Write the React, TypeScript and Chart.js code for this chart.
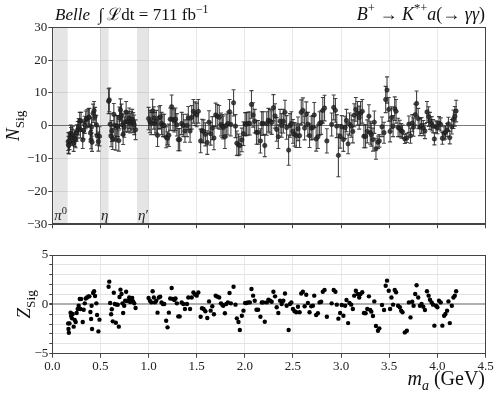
import React, { useEffect, useRef } from "react";
import { Chart, registerables } from "chart.js";
Chart.register(...registerables);

// Scan mass points (GeV)
const massGeV = [
  0.165, 0.168, 0.172, 0.178, 0.19, 0.195, 0.205, 0.212, 0.222, 0.233, 0.243, 0.253, 0.264, 0.274, 0.285, 0.292, 0.299, 0.316, 0.326, 0.337, 0.347, 0.361, 0.375, 0.385, 0.396, 0.403, 0.408, 0.413, 0.424, 0.434, 0.444, 0.458, 0.465, 0.479, 0.49,
  0.585, 0.592, 0.601, 0.611, 0.618, 0.628, 0.639, 0.649, 0.66, 0.67, 0.68, 0.691, 0.698, 0.708, 0.719, 0.729, 0.736, 0.747, 0.757, 0.767, 0.778, 0.788, 0.799, 0.809, 0.819, 0.83, 0.84, 0.851, 0.865,
  1.0, 1.014, 1.028, 1.042, 1.055, 1.066, 1.08, 1.093, 1.107, 1.121, 1.135, 1.149, 1.163, 1.183, 1.197, 1.211, 1.225, 1.24, 1.253, 1.267, 1.28, 1.294, 1.309, 1.323, 1.344, 1.361, 1.378, 1.399, 1.413, 1.431,
  1.448, 1.466, 1.483, 1.5, 1.517, 1.541, 1.555, 1.572, 1.59, 1.61,
  1.628, 1.645, 1.662, 1.679, 1.697, 1.714, 1.734, 1.752, 1.766, 1.776,
  1.793, 1.807, 1.824, 1.841, 1.855, 1.883, 1.903, 1.917, 1.934, 1.948,
  1.969, 1.986, 2.003, 2.017, 2.034, 2.052, 2.069, 2.086, 2.103, 2.121,
  2.138, 2.162, 2.176, 2.19, 2.207, 2.228, 2.245, 2.262, 2.279, 2.297,
  2.314, 2.331, 2.348, 2.366, 2.383, 2.4, 2.417, 2.434, 2.455, 2.469,
  2.483, 2.5, 2.517, 2.534, 2.552, 2.569, 2.586, 2.603, 2.621, 2.638,
  2.655, 2.672, 2.69, 2.707, 2.721, 2.741, 2.759, 2.776, 2.793, 2.81,
  2.828, 2.852,
  2.902, 2.923, 2.941, 2.955, 2.972, 2.99, 3.007, 3.024, 3.042, 3.056,
  3.073, 3.087, 3.105, 3.122, 3.136, 3.153, 3.171, 3.188, 3.202, 3.22,
  3.237, 3.254, 3.272, 3.289, 3.303, 3.314, 3.331, 3.345, 3.362, 3.383,
  3.397, 3.425, 3.446, 3.463, 3.477, 3.495, 3.509, 3.523, 3.54, 3.557,
  3.571, 3.592, 3.61, 3.624, 3.638, 3.662, 3.683, 3.704, 3.721, 3.739,
  3.753, 3.77, 3.784, 3.801, 3.819, 3.836, 3.854, 3.871, 3.892, 3.909,
  3.923, 3.941, 3.955, 3.969, 3.986, 4.0, 4.017, 4.035, 4.052, 4.07,
  4.084, 4.101, 4.115, 4.129, 4.15, 4.167, 4.181, 4.195,
];

// Fitted signal yield N_Sig
const nSig = [
  -4.8, -5.8, -6.0, -4.6, -2.3, -3.0, -3.5, -2.6, -5.2, -3.8, -4.2, -2.2, -1.2, -0.3, 1.5, -1.2, 1.5, -4.3, -1.4, 0.3, 1.8, 2.2, 2.5, 2.6, -2.2, -4.2, -0.4, -5.0, 3.8, 4.6, 2.8, 0.3, -3.0, -4.8, -3.2,
  7.5, 7.9, 0.5, -3.2, -1.6, -4.0, 3.5, 0.1, -4.2, -0.1, -0.1, -4.5, 2.4, 4.8, 3.3, 0.3, -2.6, -0.4, 1.2, 4.2, 1.2, 1.2, 2.3, 0.8, 1.4, 2.0, 1.0, 0.3, -1.2,
  2.2, 1.3, 0.7, 4.5, 2.4, 0.7, 1.3, -2.9, 2.4, 2.7, 0.7, 0.1, 0.1, -3.5, -3.8, -2.9, 2.0, 5.8, 1.9, 1.5, 2.0, 0.3, -4.2, -4.2, 0.7, 0.1, -1.6, 0.1, 2.4, -1.6,
  2.6, 4.4, 3.7, 3.3, 4.4, -4.6, -1.5, -1.7, -2.6, -5.1,
  1.1, -2.4, -0.7, -3.7, 3.3, 2.9, 2.6, 0.4, -0.1, -0.5,
  -3.3, 0.1, 0.7, 4.3, 0.4, 7.0, -0.1, -5.3, -5.8, -6.0,
  -4.3, -2.4, 0.5, 0.5, 0.7, 0.7, 6.5, 3.3, 1.4, -2.0,
  -2.0, -4.6, 0.7, 0.7, -6.0, 0.7, 1.7, 1.4, 1.0, 5.5,
  3.0, -1.1, -3.3, 1.4, 0.1, 1.4, 4.1, -0.5, -7.4, 0.1,
  0.7, -1.7, -2.6, -3.0, -0.9, -3.0, 4.1, 4.7, -0.7, 3.6,
  0.5, -3.0, -0.7, -0.5, 3.3, -4.0, -3.3, 0.7, 1.0, 4.7,
  5.4, -4.6,
  0.4, 5.6, 4.7, -0.1, -9.0, -3.2, -0.3, -4.2, -0.5, 1.6,
  -5.5, 0.5, -0.1, -1.7, 3.2, 5.0, 3.8, 2.5, 3.8, 4.4,
  -3.2, -3.2, -1.7, 2.9, -2.1, -2.7, -4.2, 1.1, -7.0, -5.0,
  -4.6, -0.3, -2.1, 8.0, 10.9, 5.0, -1.7, 2.5, -0.1, 5.2,
  4.4, -0.5, -0.8, -1.5, -1.8, -4.0, -3.7, 0.5, -3.0, 0.8,
  -0.4, 3.4, 6.8, 2.2, -0.4, 0.1, -0.7, -1.6, 4.2, 2.8,
  1.5, 0.6, -0.1, -4.0, -0.3, -0.6, 0.8, 0.4, -3.8, -2.3,
  -2.0, -1.3, 0.6, -3.6, -0.3, 2.0, 2.9, 4.5,
];

// Uncertainty on N_Sig
const nSigErr = [
  2.7, 2.6, 2.6, 2.6, 2.5, 2.5, 2.5, 2.5, 2.6, 2.5, 2.5, 2.5, 2.5, 2.5, 2.6, 2.5, 2.6, 2.6, 2.6, 2.6, 2.7, 2.7, 2.7, 2.7, 2.7, 2.8, 2.8, 2.8, 2.8, 2.8, 2.8, 2.9, 2.9, 2.9, 2.9,
  3.8, 3.6, 3.3, 3.2, 3.2, 3.2, 3.3, 3.2, 3.2, 3.2, 3.2, 3.2, 3.3, 3.4, 3.3, 3.2, 3.1, 3.1, 3.1, 3.2, 3.1, 3.1, 3.1, 3.0, 3.0, 3.0, 3.0, 3.0, 3.0,
  3.4, 3.4, 3.4, 3.6, 3.4, 3.4, 3.4, 3.4, 3.4, 3.5, 3.4, 3.4, 3.4, 3.2, 2.0, 3.4, 3.4, 3.6, 3.4, 3.4, 3.4, 3.4, 3.4, 3.4, 3.4, 3.4, 3.4, 3.4, 3.5, 3.4,
  3.6, 3.6, 3.6, 3.6, 3.6, 3.6, 3.5, 3.5, 3.5, 3.6,
  3.5, 3.5, 3.5, 3.6, 3.6, 3.6, 3.6, 3.5, 3.5, 3.5,
  3.6, 3.5, 3.5, 3.7, 3.5, 4.0, 3.5, 3.7, 3.3, 2.8,
  3.6, 3.6, 3.5, 3.5, 3.5, 3.5, 4.2, 3.7, 3.6, 3.6,
  3.6, 3.7, 3.6, 3.6, 3.4, 3.6, 3.6, 3.6, 3.6, 4.0,
  3.7, 3.6, 3.6, 3.6, 3.6, 3.6, 3.7, 3.6, 4.6, 3.6,
  3.6, 3.6, 3.6, 3.6, 3.6, 3.6, 3.8, 3.8, 3.6, 3.7,
  3.6, 3.6, 3.6, 3.6, 3.8, 3.7, 3.6, 3.6, 3.6, 3.9,
  3.9, 3.7,
  3.5, 3.8, 3.6, 3.5, 6.5, 3.6, 3.4, 3.6, 3.4, 3.4,
  3.0, 3.4, 3.4, 3.5, 3.5, 3.6, 3.6, 3.5, 3.6, 3.6,
  3.5, 3.5, 3.5, 3.5, 3.5, 3.5, 3.5, 3.4, 3.2, 1.9,
  1.9, 3.0, 3.2, 4.0, 4.0, 3.6, 3.2, 3.3, 3.2, 3.6,
  3.6, 2.8, 2.5, 2.2, 2.0, 1.4, 1.4, 2.5, 2.3, 2.6,
  2.8, 3.2, 3.8, 3.1, 2.6, 2.4, 2.3, 2.3, 3.2, 3.0,
  2.6, 2.2, 2.0, 1.8, 1.8, 1.8, 2.0, 2.0, 1.8, 2.0,
  2.0, 2.0, 2.0, 1.9, 2.2, 2.8, 3.0, 3.3,
];

// Local significance Z_Sig
const zSig = [
  -1.93, -2.5, -2.87, -1.93, -0.84, -1.18, -1.42, -0.98, -2.26, -1.59, -1.79, -0.88, -0.47, -0.14, 0.54, -0.47, 0.54, -1.79, -0.54, 0.1, 0.6, 0.7, 0.81, 0.81, -0.78, -1.49, -0.14, -2.5, 1.15, 1.32, 0.84, 0.1, -1.08, -2.74, -1.55,
  1.79, 2.3, 0.14, -1.01, -0.5, -1.72, 1.18, 0.03, -1.86, -0.03, -0.03, -2.26, 0.74, 1.49, 1.05, 0.1, -0.88, -0.14, 0.37, 1.28, 0.37, 0.37, 0.7, 0.24, 0.44, 0.64, 0.3, 0.1, -0.37,
  0.64, 0.37, 0.2, 1.32, 0.7, 0.2, 0.37, -0.84, 0.7, 0.78, 0.2, 0.03, 0.03, -1.66, -2.33, -0.84, 0.6, 1.66, 0.55, 0.44, 0.6, 0.1, -1.22, -1.22, 0.2, 0.03, -0.47, 0.03, 0.7, -0.47,
  0.7, 1.2, 1.0, 0.88, 1.2, -1.25, -0.4, -0.47, -0.7, -1.38,
  0.3, -0.64, -0.2, -1.0, 0.88, 0.78, 0.7, 0.1, -0.03, -0.14,
  -0.9, 0.03, 0.2, 1.15, 0.1, 1.79, -0.03, -1.42, -1.79, -2.6,
  -1.15, -0.64, 0.14, 0.14, 0.2, 0.2, 1.55, 0.88, 0.37, -0.54,
  -0.54, -1.25, 0.2, 0.2, -1.76, 0.2, 0.47, 0.37, 0.27, 1.28,
  0.81, -0.3, -0.88, 0.37, 0.03, 0.37, 1.1, -0.14, -2.6, 0.03,
  0.2, -0.47, -0.7, -0.8, -0.24, -0.8, 1.1, 1.28, -0.2, 0.98,
  0.14, -0.8, -0.2, -0.14, 0.88, -1.08, -0.9, 0.2, 0.27, 1.28,
  1.45, -1.25,
  0.1, 1.45, 1.28, -0.03, -1.45, -0.88, -0.07, -1.15, -0.14, 0.44,
  -1.9, 0.14, -0.03, -0.47, 0.88, 1.38, 1.05, 0.7, 1.05, 1.22,
  -0.88, -0.9, -0.47, 0.81, -0.57, -0.74, -1.18, 0.3, -2.2, -2.67,
  -2.43, -0.07, -0.57, 1.89, 2.4, 1.38, -0.47, 0.7, -0.03, 1.45,
  1.22, -0.14, -0.3, -0.64, -0.8, -2.84, -2.67, 0.2, -1.32, 0.27,
  -0.14, 1.05, 1.93, 0.7, -0.14, 0.03, -0.24, -0.57, 1.32, 0.88,
  0.47, 0.2, -0.03, -2.16, -0.14, -0.3, 0.37, 0.2, -2.16, -1.15,
  -0.98, -0.64, 0.3, -1.9, -0.14, 0.7, 0.88, 1.32,
];

// Vetoed mass windows (GeV)
const vetoLow = [0.01, 0.495, 0.88];
const vetoHigh = [0.16, 0.585, 1.0];
const vetoNames = ["π", "η", "η"];
const vetoMarks = ["0", "", "′"];

// Axis ticks
const xTicks = [0, 0.5, 1.0, 1.5, 2.0, 2.5, 3.0, 3.5, 4.0, 4.5];
const nTicks = [-30, -20, -10, 0, 10, 20, 30];
const zLabelTicks = [-5, 0, 5];

const FONT = "'Liberation Serif', 'DejaVu Serif', serif";
const W = 499;

type Part = { t: string; it?: boolean; sc?: number; dy?: number };

function drawRich(
  ctx: CanvasRenderingContext2D,
  parts: Part[],
  x: number,
  y: number,
  size: number,
  align: "left" | "right" | "center"
) {
  const fontOf = (p: Part) => `${p.it ? "italic " : ""}${size * (p.sc || 1)}px ${FONT}`;
  let total = 0;
  const widths: number[] = [];
  for (const p of parts) {
    ctx.font = fontOf(p);
    const w = ctx.measureText(p.t).width;
    widths.push(w);
    total += w;
  }
  let cx = align === "left" ? x : align === "right" ? x - total : x - total / 2;
  ctx.textAlign = "left";
  ctx.textBaseline = "alphabetic";
  parts.forEach((p, i) => {
    ctx.font = fontOf(p);
    ctx.fillText(p.t, cx, y + (p.dy || 0) * size);
    cx += widths[i];
  });
}

const fmtNum = (v: number) => (v < 0 ? "\u2212" + Math.abs(v) : String(v));

const bandsPlugin = {
  id: "bands",
  beforeDatasetsDraw(chart: any) {
    const { ctx, chartArea, scales } = chart;
    ctx.save();
    ctx.fillStyle = "rgba(0,0,0,0.1)";
    vetoLow.forEach((lo, i) => {
      const a = scales.x.getPixelForValue(lo);
      const b = scales.x.getPixelForValue(vetoHigh[i]);
      ctx.fillRect(a, chartArea.top, b - a, chartArea.bottom - chartArea.top);
    });
    ctx.restore();
  },
  afterDatasetsDraw(chart: any) {
    const { ctx, chartArea, scales } = chart;
    ctx.save();
    ctx.fillStyle = "#222";
    vetoLow.forEach((lo, i) => {
      const a = scales.x.getPixelForValue(lo);
      const parts: Part[] = [{ t: vetoNames[i], it: true }];
      if (vetoMarks[i] === "0") parts.push({ t: "0", sc: 0.7, dy: -0.4 });
      if (vetoMarks[i] === "′") parts.push({ t: "′" });
      drawRich(ctx, parts, a + 1, chartArea.bottom - 4, 15, "left");
    });
    ctx.restore();
  },
};

const errorBarPlugin = {
  id: "errbars",
  beforeDatasetsDraw(chart: any) {
    const { ctx, chartArea, scales } = chart;
    ctx.save();
    ctx.beginPath();
    ctx.rect(chartArea.left, chartArea.top, chartArea.right - chartArea.left, chartArea.bottom - chartArea.top);
    ctx.clip();
    ctx.strokeStyle = "rgba(35,35,35,0.85)";
    ctx.lineWidth = 1.1;
    const n = Math.min(massGeV.length, nSig.length, nSigErr.length);
    for (let i = 0; i < n; i++) {
      const px = scales.x.getPixelForValue(massGeV[i]);
      const y1 = scales.y.getPixelForValue(nSig[i] - nSigErr[i]);
      const y2 = scales.y.getPixelForValue(nSig[i] + nSigErr[i]);
      ctx.beginPath();
      ctx.moveTo(px, y1);
      ctx.lineTo(px, y2);
      ctx.moveTo(px - 2, y1);
      ctx.lineTo(px + 2, y1);
      ctx.moveTo(px - 2, y2);
      ctx.lineTo(px + 2, y2);
      ctx.stroke();
    }
    ctx.restore();
  },
};

const framePlugin = {
  id: "frame",
  afterDraw(chart: any) {
    const { ctx, chartArea } = chart;
    ctx.save();
    ctx.strokeStyle = "#444";
    ctx.lineWidth = 1;
    const l = Math.round(chartArea.left) + 0.5;
    const t = Math.round(chartArea.top) + 0.5;
    const r = Math.round(chartArea.right) - 0.5;
    const b = Math.round(chartArea.bottom) - 0.5;
    ctx.strokeRect(l, t, r - l, b - t);
    ctx.restore();
  },
};

const topTextPlugin = {
  id: "topText",
  afterDraw(chart: any) {
    const { ctx, chartArea } = chart;
    ctx.save();
    ctx.fillStyle = "#111";
    drawRich(
      ctx,
      [
        { t: "Belle", it: true },
        { t: "  ∫ " },
        { t: "ℒ" },
        { t: "dt = 711 fb" },
        { t: "−1", sc: 0.7, dy: -0.42 },
      ],
      55,
      20,
      17,
      "left"
    );
    drawRich(
      ctx,
      [
        { t: "B", it: true },
        { t: "+", sc: 0.7, dy: -0.42 },
        { t: " → " },
        { t: "K", it: true },
        { t: "*+", sc: 0.7, dy: -0.42 },
        { t: "a", it: true },
        { t: "(→ " },
        { t: "γγ", it: true },
        { t: ")" },
      ],
      485,
      20,
      18,
      "right"
    );
    ctx.translate(19, (chartArea.top + chartArea.bottom) / 2);
    ctx.rotate(-Math.PI / 2);
    drawRich(ctx, [{ t: "N", it: true }, { t: "Sig", sc: 0.7, dy: 0.25 }], 0, 0, 19, "center");
    ctx.restore();
  },
};

const botTextPlugin = {
  id: "botText",
  afterDraw(chart: any) {
    const { ctx, chartArea } = chart;
    ctx.save();
    ctx.fillStyle = "#111";
    drawRich(ctx, [{ t: "m", it: true }, { t: "a", it: true, sc: 0.7, dy: 0.25 }, { t: " (GeV)" }], 485, 145, 20, "right");
    ctx.translate(30, (chartArea.top + chartArea.bottom) / 2);
    ctx.rotate(-Math.PI / 2);
    drawRich(ctx, [{ t: "Z", it: true }, { t: "Sig", sc: 0.7, dy: 0.25 }], 0, 0, 19, "center");
    ctx.restore();
  },
};

export default function App() {
  const topRef = useRef<HTMLCanvasElement>(null);
  const botRef = useRef<HTMLCanvasElement>(null);

  useEffect(() => {
    const n = Math.min(massGeV.length, nSig.length, zSig.length);
    const topData = [];
    const botData = [];
    for (let i = 0; i < n; i++) {
      topData.push({ x: massGeV[i], y: nSig[i] });
      botData.push({ x: massGeV[i], y: zSig[i] });
    }

    const topChart = new Chart(topRef.current as HTMLCanvasElement, {
      type: "scatter",
      data: {
        datasets: [
          {
            data: topData,
            pointRadius: 2.2,
            pointBackgroundColor: "rgba(40,40,40,0.85)",
            pointBorderColor: "rgba(20,20,20,0.9)",
            pointBorderWidth: 0.6,
          },
        ],
      },
      options: {
        responsive: false,
        animation: false,
        events: [],
        layout: { padding: { left: 0, right: 13.5, top: 27.3, bottom: 0 } },
        plugins: { legend: { display: false }, tooltip: { enabled: false } },
        scales: {
          x: {
            type: "linear",
            min: 0,
            max: 4.5,
            afterBuildTicks: (s: any) => {
              s.ticks = xTicks.map((v) => ({ value: v }));
            },
            ticks: { display: false },
            grid: { color: "#e8e8e8", tickLength: 4, tickColor: "#444" },
            border: { color: "#444" },
            afterFit: (s: any) => {
              s.height = 15.7;
            },
          },
          y: {
            type: "linear",
            min: -30,
            max: 30,
            afterBuildTicks: (s: any) => {
              s.ticks = nTicks.map((v) => ({ value: v }));
            },
            ticks: {
              color: "#222",
              padding: 1,
              font: { family: FONT, size: 13 },
              callback: (v: any) => fmtNum(Number(v)),
            },
            grid: {
              color: (c: any) => (c.tick && c.tick.value === 0 ? "#7a7a7a" : "#e8e8e8"),
              tickLength: 4,
              tickColor: "#444",
            },
            border: { color: "#444" },
            afterFit: (s: any) => {
              s.width = 52.3;
            },
          },
        },
      },
      plugins: [bandsPlugin, errorBarPlugin, framePlugin, topTextPlugin],
    } as any);

    const botChart = new Chart(botRef.current as HTMLCanvasElement, {
      type: "scatter",
      data: {
        datasets: [
          {
            data: botData,
            pointRadius: 2.2,
            pointBackgroundColor: "#000",
            pointBorderColor: "#000",
            pointBorderWidth: 0,
          },
        ],
      },
      options: {
        responsive: false,
        animation: false,
        events: [],
        layout: { padding: { left: 0, right: 13.5, top: 15, bottom: 0 } },
        plugins: { legend: { display: false }, tooltip: { enabled: false } },
        scales: {
          x: {
            type: "linear",
            min: 0,
            max: 4.5,
            afterBuildTicks: (s: any) => {
              s.ticks = xTicks.map((v) => ({ value: v }));
            },
            ticks: {
              color: "#222",
              padding: 1,
              maxRotation: 0,
              font: { family: FONT, size: 13 },
              callback: (v: any) => Number(v).toFixed(1),
            },
            grid: { color: "#e8e8e8", tickLength: 4, tickColor: "#444" },
            border: { color: "#444" },
            afterFit: (s: any) => {
              s.height = 44.3;
            },
          },
          y: {
            type: "linear",
            min: -5,
            max: 5,
            ticks: {
              stepSize: 1,
              color: "#222",
              padding: 1,
              autoSkip: false,
              font: { family: FONT, size: 13 },
              callback: (v: any) => (zLabelTicks.includes(Number(v)) ? fmtNum(Number(v)) : ""),
            },
            grid: {
              color: (c: any) => (c.tick && c.tick.value === 0 ? "#b0b0b0" : "#e3e3e3"),
              lineWidth: (c: any) => (c.tick && c.tick.value === 0 ? 2 : 1),
              tickLength: 3,
              tickColor: "#444",
            },
            border: { color: "#444" },
            afterFit: (s: any) => {
              s.width = 52.3;
            },
          },
        },
      },
      plugins: [framePlugin, botTextPlugin],
    } as any);

    return () => {
      topChart.destroy();
      botChart.destroy();
    };
  }, []);

  return (
    <div style={{ position: "absolute", left: 0, top: 0, width: W, height: 398, background: "#fff" }}>
      <canvas
        ref={topRef}
        width={W}
        height={240}
        style={{ position: "absolute", left: 0, top: 0, width: W, height: 240 }}
      />
      <canvas
        ref={botRef}
        width={W}
        height={158}
        style={{ position: "absolute", left: 0, top: 240, width: W, height: 158 }}
      />
    </div>
  );
}
